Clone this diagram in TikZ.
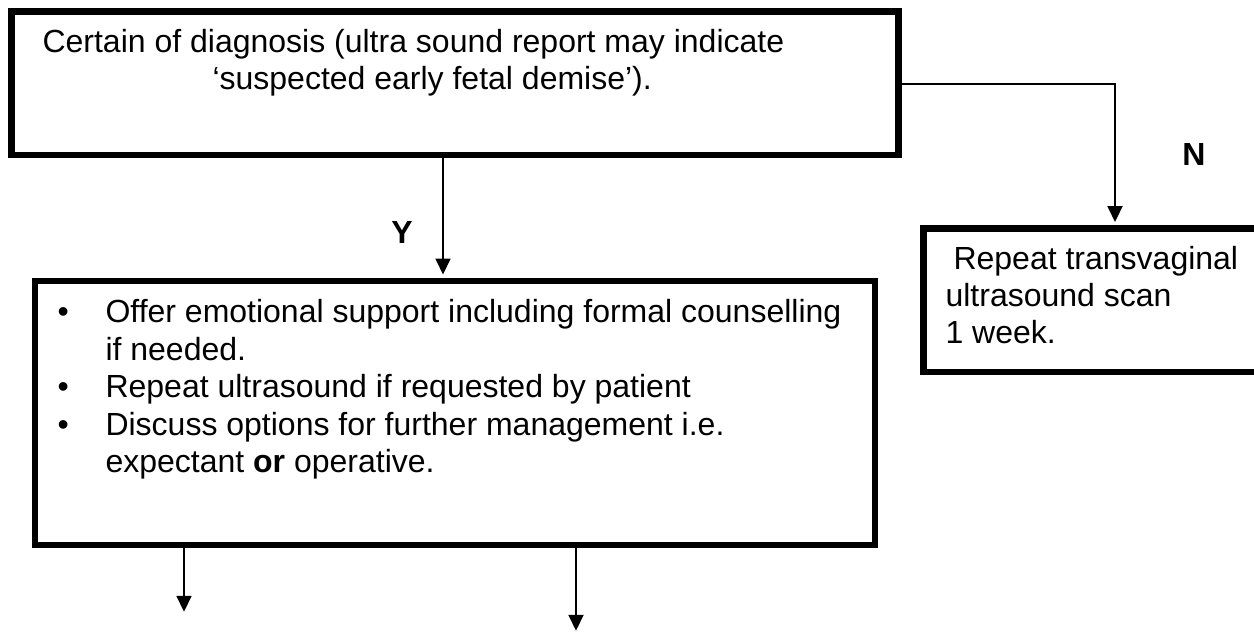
\documentclass[tikz,border=0pt]{standalone}
\usepackage{fontspec}
\setmainfont{Liberation Sans}
\usetikzlibrary{arrows.meta, positioning}

\tikzset{
  box/.style={draw, rectangle, line width=2.45pt, inner sep=0pt},
  arr/.style={line width=0.75pt, shorten >=1.2pt, -{Triangle[length=6pt, width=5.6pt]}},
  txt/.style={anchor=base west, inner sep=0pt, font=\fontsize{12}{14}\selectfont},
  lbl/.style={anchor=base, inner sep=0pt, font=\fontsize{12}{14}\selectfont\bfseries},
}

\begin{document}
\begin{tikzpicture}[x=0.375pt, y=-0.375pt]
  \useasboundingbox (0,0) rectangle (1254,631);
  \clip (0,0) rectangle (1254,631);

  % boxes
  \node[box, minimum width=332.6pt, minimum height=53.8pt] (diag) at (455,83.25) {};
  \node[box, minimum width=315pt, minimum height=99pt] (support) at (455,413) {};
  \node[box, minimum width=125.8pt, minimum height=53.8pt] (rescan) at (1091.25,300.25) {};

  % texts
  \node[txt] (d1) at (42,53) {Certain of diagnosis (ultra sound report may indicate};
  \node[txt] (d2) at (212,90) {‘suspected early fetal demise’).};

  \foreach \yy in {322,397,435}
    \node[txt] (b\yy) at (57,\yy) {•};
  \node[txt] (s1) at (105,322) {Offer emotional support including formal counselling};
  \node[txt] (s2) at (105,360) {if needed.};
  \node[txt] (s3) at (105,397) {Repeat ultrasound if requested by patient};
  \node[txt] (s4) at (105,435) {Discuss options for further management i.e.};
  \node[txt] (s5) at (105,472) {expectant \textbf{or} operative.};

  \node[txt] (r1) at (953,269) {Repeat transvaginal};
  \node[txt] (r2) at (945,306) {ultrasound scan};
  \node[txt] (r3) at (945,343) {1 week.};

  \node[lbl] (ylab) at (402,243) {Y};
  \node[lbl] (nlab) at (1194,165) {N};

  % connectors
  \coordinate (ya) at (443,0);
  \coordinate (nb) at (1115,84);
  \coordinate (outl) at (184,615);
  \coordinate (outr) at (576,634);
  \draw[arr] (diag.south -| ya) -- (ya |- support.north);
  \draw[arr] (diag.east |- nb) -- (nb) -- (nb |- rescan.north);
  \draw[arr] (support.south -| outl) -- (outl);
  \draw[arr] (support.south -| outr) -- (outr);
\end{tikzpicture}
\end{document}
